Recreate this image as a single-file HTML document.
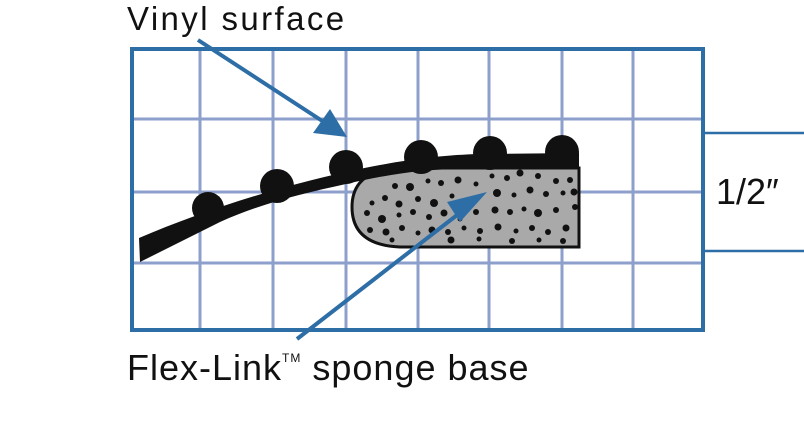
<!DOCTYPE html>
<html><head><meta charset="utf-8"><style>
html,body{margin:0;padding:0;background:#fff;}
svg{display:block}
</style></head><body>
<svg width="804" height="439" viewBox="0 0 804 439" xmlns="http://www.w3.org/2000/svg">
<g stroke="#8d9fcb" stroke-width="3">
<line x1="200" y1="49" x2="200" y2="330"/><line x1="273" y1="49" x2="273" y2="330"/>
<line x1="346" y1="49" x2="346" y2="330"/><line x1="418" y1="49" x2="418" y2="330"/>
<line x1="489" y1="49" x2="489" y2="330"/><line x1="562" y1="49" x2="562" y2="330"/>
<line x1="633" y1="49" x2="633" y2="330"/>
<line x1="132" y1="119" x2="703" y2="119"/><line x1="132" y1="192" x2="703" y2="192"/>
<line x1="132" y1="263" x2="703" y2="263"/>
</g>
<rect x="132" y="49" width="571" height="281" fill="none" stroke="#2e6ea6" stroke-width="4"/>
<g stroke="#2e6ea6" stroke-width="2.5"><line x1="705" y1="133" x2="804" y2="133"/><line x1="705" y1="251" x2="804" y2="251"/></g>
<text x="716" y="204" font-family="Liberation Sans, sans-serif" font-size="36" fill="#111">1/2″</text>
<!-- sponge -->
<path d="M579 168 L400 168 Q352 170 352 207 Q352 245 400 247 L579 247 Z" fill="#a9a9a9" stroke="#111" stroke-width="3"/>
<g fill="#111">
<circle cx="395" cy="186" r="3"/><circle cx="410" cy="187" r="4"/><circle cx="428" cy="181" r="2.5"/><circle cx="441" cy="183" r="3"/><circle cx="458" cy="180" r="3.5"/><circle cx="476" cy="184" r="2.5"/><circle cx="492" cy="176" r="2.5"/><circle cx="507" cy="178" r="3"/><circle cx="520" cy="173" r="3.5"/><circle cx="538" cy="176" r="3"/><circle cx="556" cy="181" r="3"/><circle cx="570" cy="180" r="3"/>
<circle cx="372" cy="203" r="2.5"/><circle cx="385" cy="198" r="3"/><circle cx="399" cy="204" r="3.5"/><circle cx="418" cy="199" r="3"/><circle cx="434" cy="203" r="4"/><circle cx="452" cy="196" r="2.5"/><circle cx="468" cy="200" r="3"/><circle cx="497" cy="193" r="4"/><circle cx="514" cy="195" r="2.5"/><circle cx="530" cy="190" r="3.5"/><circle cx="546" cy="194" r="3"/><circle cx="563" cy="193" r="2.5"/><circle cx="574" cy="192" r="3.5"/>
<circle cx="367" cy="213" r="3"/><circle cx="382" cy="219" r="4"/><circle cx="399" cy="215" r="2.5"/><circle cx="413" cy="212" r="3"/><circle cx="429" cy="217" r="3"/><circle cx="444" cy="213" r="3.5"/><circle cx="460" cy="219" r="2.5"/><circle cx="476" cy="212" r="3"/><circle cx="495" cy="210" r="3.5"/><circle cx="510" cy="212" r="3"/><circle cx="524" cy="209" r="2.5"/><circle cx="538" cy="213" r="4"/><circle cx="556" cy="210" r="3"/><circle cx="575" cy="207" r="3"/>
<circle cx="370" cy="230" r="3"/><circle cx="386" cy="232" r="3.5"/><circle cx="402" cy="228" r="3"/><circle cx="418" cy="233" r="2.5"/><circle cx="432" cy="230" r="3.5"/><circle cx="448" cy="232" r="3"/><circle cx="464" cy="228" r="2.5"/><circle cx="480" cy="231" r="3"/><circle cx="498" cy="227" r="3.5"/><circle cx="516" cy="231" r="2.5"/><circle cx="532" cy="228" r="3"/><circle cx="548" cy="232" r="3"/><circle cx="566" cy="228" r="3.5"/>
<circle cx="392" cy="240" r="2.5"/><circle cx="451" cy="240" r="3.5"/><circle cx="479" cy="239" r="2.5"/><circle cx="512" cy="241" r="3"/><circle cx="539" cy="240" r="2.5"/><circle cx="563" cy="241" r="3"/>
</g>
<!-- vinyl strip -->
<path d="M139 238 C200 212 273 188 346 172 C400 160 440 155 480 154 L579 153 L579 169 L460 169 C420 169 380 176 346 184 C300 194 260 204 220 222 L140 262 Z" fill="#111"/>
<g fill="#111">
<circle cx="208" cy="208" r="16"/><circle cx="277" cy="186" r="17"/><circle cx="346" cy="167" r="17"/>
<circle cx="421" cy="157" r="17"/><circle cx="490" cy="153" r="17"/><circle cx="562" cy="152" r="17"/>
</g>
<rect x="579" y="130" width="30" height="26" fill="#fff"/>
<!-- arrows -->
<g stroke="#2e6ea6" stroke-width="4"><line x1="198" y1="40" x2="330" y2="126"/><line x1="297" y1="339" x2="470" y2="205"/></g>
<polygon points="347,137 313,133 330,109" fill="#2e6ea6"/>
<polygon points="487,192 460,222 447,202" fill="#2e6ea6"/>
<text x="127" y="30" font-family="Liberation Sans, sans-serif" font-size="33" letter-spacing="2.4" fill="#111">Vinyl surface</text>
<text x="127" y="380" font-family="Liberation Sans, sans-serif" font-size="36" letter-spacing="1" fill="#111">Flex-Link<tspan font-size="12" dy="-18">TM</tspan><tspan dy="18"> sponge base</tspan></text>
</svg>
</body></html>
